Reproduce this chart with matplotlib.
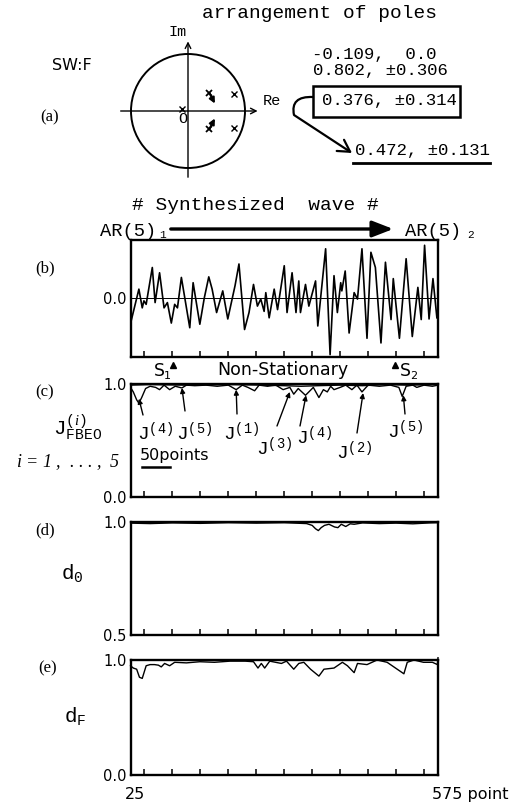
import numpy as np
import matplotlib
matplotlib.use('Agg')
import matplotlib.pyplot as plt
from matplotlib.patches import Circle, Rectangle, FancyArrowPatch
from matplotlib.path import Path

plt.rcParams['font.family'] = 'DejaVu Sans'
plt.rcParams['mathtext.fontset'] = 'custom'
plt.rcParams['mathtext.rm'] = 'Liberation Mono'
plt.rcParams['mathtext.it'] = 'Liberation Serif:italic'
plt.rcParams['mathtext.bf'] = 'Liberation Mono:bold'

# poles of the AR(5) model (real, imag)
pole_re = [-0.109, 0.802, 0.802, 0.376, 0.376]
pole_im = [0.0, 0.306, -0.306, 0.314, -0.314]
moved_re = [0.472, 0.472]
moved_im = [0.131, -0.131]

# synthesized wave
w_x = [26, 40, 46, 49, 53, 64, 69, 77, 85, 91, 98, 104, 109, 116, 131, 137, 149, 157, 165, 171,
       179, 190, 199, 212, 219, 229, 237, 245, 252, 258, 264, 267, 273, 282, 288, 300, 305, 314, 321, 326,
       329, 338, 344, 356, 360, 374, 382, 389, 395, 401, 403, 409, 416, 425, 431, 439, 448, 455, 463, 473,
       481, 491, 495, 506, 518, 529, 539, 545, 551, 559, 566, 573]
w_y = [-0.39, 0.16, -0.16, -0.04, -0.10, 0.53, -0.07, 0.44, -0.16, -0.07, -0.42, -0.10, -0.16, 0.36, -0.50, 0.27, -0.44, 0.01, 0.37, 0.16,
       -0.24, 0.13, -0.35, 0.22, 0.59, -0.53, -0.24, 0.24, -0.13, -0.01, -0.22, 0.10, -0.33, 0.16, -0.19, 0.56, -0.24, 0.44, -0.24, 0.30,
       -0.24, 0.24, -0.13, 0.30, -0.47, 0.85, -0.96, 0.39, -0.24, 0.27, 0.13, 0.47, -0.59, 0.10, -0.01, 0.85, -0.68, 0.79, 0.53, -0.76,
       0.62, -0.36, 0.34, -0.68, 0.68, -0.65, 0.19, -0.36, 0.91, -0.35, 0.34, -0.33]
s_points = [101, 498]

# J_FBEO curves
c_x = [25, 30, 36, 40, 45, 52, 60, 70, 77, 85, 95, 105, 117, 125, 140, 160, 180, 200, 214, 225,
       235, 247, 255, 270, 285, 298, 310, 317, 325, 338, 344, 352, 362, 370, 377, 383, 389, 400, 410, 421,
       430, 439, 450, 470, 490, 505, 511, 518, 530, 537, 550, 565, 575]
c_lo = [0.97, 0.93, 0.86, 0.83, 0.88, 0.96, 0.98, 0.97, 0.95, 0.99, 0.95, 0.98, 0.965, 0.99, 0.985, 0.99, 0.98, 0.99, 0.95, 0.99,
        0.97, 0.94, 0.99, 0.98, 0.99, 0.95, 0.97, 0.91, 0.96, 0.90, 0.93, 0.97, 0.88, 0.95, 0.93, 0.98, 0.95, 0.97, 0.99, 0.95,
        0.99, 0.93, 0.99, 0.98, 0.99, 0.97, 0.89, 0.98, 0.99, 0.97, 0.99, 0.98, 0.99]
c_hi_x = [25, 60, 120, 200, 260, 300, 330, 360, 400, 440, 480, 520, 575]
c_hi = [0.99, 0.995, 0.99, 0.995, 0.99, 0.985, 0.98, 0.985, 0.99, 0.985, 0.995, 0.99, 0.995]

# d0
d_x = [25, 60, 100, 150, 200, 250, 300, 340, 350, 356, 361, 366, 372, 380, 390, 396, 402, 410, 418, 425,
       440, 470, 500, 530, 560, 575]
d_y = [0.995, 0.993, 0.996, 0.994, 0.997, 0.995, 0.997, 0.993, 0.985, 0.97, 0.962, 0.975, 0.985, 0.99, 0.978, 0.975, 0.99, 0.98, 0.992, 0.99,
       0.996, 0.993, 0.995, 0.992, 0.996, 0.997]

# dF
e_x = [25, 30, 36, 41, 46, 53, 60, 68, 75, 80, 86, 95, 104, 125, 149, 175, 203, 230, 245, 253,
       259, 265, 274, 295, 304, 317, 326, 335, 347, 362, 371, 389, 404, 413, 425, 431, 448, 466, 484, 496,
       514, 520, 532, 549, 565, 574, 575]
e_y = [0.95, 0.93, 0.92, 0.85, 0.84, 0.95, 0.96, 0.96, 0.955, 0.94, 0.97, 0.95, 0.98, 0.975, 0.985, 0.98, 0.99, 0.99, 0.985, 0.93,
       0.97, 0.93, 0.99, 0.97, 0.99, 0.92, 0.97, 0.98, 0.92, 0.86, 0.92, 0.93, 0.98, 0.95, 0.89, 0.97, 0.96, 1.0, 0.98, 0.94,
       0.88, 0.98, 1.0, 0.98, 0.98, 0.96, 1.02]

# J labels: (label, dip x, dip y)
j_labels = ['4', '5', '1', '3', '4', '2', '5']
j_tip_x = [40, 117, 214, 310, 339, 441, 513]
j_tip_y = [0.87, 0.965, 0.95, 0.93, 0.90, 0.92, 0.90]

W, H = 519, 805
fig = plt.figure(figsize=(W / 100, H / 100), dpi=100)


def fp(px, py):
    return (px / W, 1 - py / H)


def ftext(px, py, s, **kw):
    kw.setdefault('ha', 'center')
    kw.setdefault('va', 'center')
    fig.text(px / W, 1 - py / H, s, **kw)


mono = 'Liberation Mono'
serif = 'Liberation Serif'

# ---------------- (a) pole plot
ax_a = fig.add_axes([0, 1 - 200 / H, 1, 200 / H])
R = 57.0
cx, cy = 188, 111
ax_a.set_xlim(-cx / R, (W - cx) / R)
ax_a.set_ylim((cy - 200) / R, cy / R)
ax_a.axis('off')
ax_a.add_patch(Circle((0, 0), 1, fill=False, lw=1.4, color='k'))
ax_a.annotate('', xy=(1.27, 0), xytext=(-1.23, 0),
              arrowprops=dict(arrowstyle='->', lw=1.0, color='k'))
ax_a.annotate('', xy=(0, 1.27), xytext=(0, -1.21),
              arrowprops=dict(arrowstyle='->', lw=1.0, color='k'))
ax_a.plot(pole_re[:3], [0.04] + pole_im[1:3], 'x', color='k', ms=4.5, mew=1.0)
ax_a.plot(pole_re[3:], pole_im[3:], 'x', color='k', ms=5, mew=1.3)
for x0, y0, x1, y1 in zip(pole_re[3:], pole_im[3:], moved_re, moved_im):
    ax_a.annotate('', xy=(x1, y1), xytext=(x0, y0),
                  arrowprops=dict(arrowstyle='-|>', lw=1.5, color='k', mutation_scale=8,
                                  shrinkA=0, shrinkB=0))

ftext(178, 32, 'Im', family=mono, fontsize=11)
ftext(272, 101, 'Re', family=mono, fontsize=11)
ftext(183, 119, 'O', family=mono, fontsize=11)
ftext(72, 65, 'SW:F', fontsize=11.5)
ftext(50, 117, '(a)', family=serif, fontsize=12)
ftext(202, 14, 'arrangement of poles', family=mono, fontsize=14, ha='left')
ftext(312, 55, '-0.109,  0.0', family=mono, fontsize=12.5, ha='left')
ftext(313, 70, '0.802, \u00b10.306', family=mono, fontsize=12.5, ha='left')
ftext(322, 101, '0.376, \u00b10.314', family=mono, fontsize=12.5, ha='left')
ftext(355, 151, '0.472, \u00b10.131', family=mono, fontsize=12.5, ha='left')

x0, y0 = fp(313, 117)
x1, y1 = fp(460, 86)
fig.add_artist(Rectangle((x0, y0), x1 - x0, y1 - y0, transform=fig.transFigure,
                         fill=False, lw=1.8, color='k'))
fig.add_artist(plt.Line2D([353 / W, 490 / W], [1 - 163 / H, 1 - 163 / H],
                          transform=fig.transFigure, lw=2.0, color='k'))
curve = Path([fp(313, 97), fp(290, 96), fp(294, 115), fp(352, 153)],
             [Path.MOVETO, Path.CURVE3, Path.CURVE3, Path.LINETO])
fig.add_artist(FancyArrowPatch(path=curve, transform=fig.transFigure,
                               arrowstyle='->,head_length=0.7,head_width=0.4',
                               mutation_scale=12, lw=1.6, color='k'))

# ---------------- shared axes helpers
left = 130.5 / W
width = 307.5 / W


def make_ax(top, bottom):
    ax = fig.add_axes([left, 1 - bottom / H, width, (bottom - top) / H])
    ax.set_xlim(25, 575)
    for sp in ax.spines.values():
        sp.set_linewidth(1.7)
    ax.set_xticks(np.arange(50, 575, 50))
    ax.tick_params(axis='x', direction='in', length=4, width=1.1, labelbottom=False)
    ax.tick_params(axis='y', length=0, pad=3, labelsize=10.5)
    return ax


# ---------------- (b) synthesized wave
ax_b = make_ax(240, 357)
ax_b.set_ylim(-1, 1)
ax_b.axhline(0, color='k', lw=0.7)
ax_b.plot(w_x, w_y, color='k', lw=1.2)
ax_b.set_yticks([0])
ax_b.set_yticklabels(['0.0'])
ax_b.plot(s_points, [-0.07, -0.07], '^', color='k', ms=5,
          transform=ax_b.get_xaxis_transform(), clip_on=False)

ftext(255, 205, '# Synthesized  wave #', family=mono, fontsize=14)
ftext(100, 231, 'AR(5)', family=mono, fontsize=13.5, ha='left')
ftext(163, 235, '1', family=mono, fontsize=8)
ftext(405, 231, 'AR(5)', family=mono, fontsize=13.5, ha='left')
ftext(471, 235, '2', family=mono, fontsize=8)
fig.add_artist(FancyArrowPatch(fp(168, 229), fp(396, 229), transform=fig.transFigure,
                               arrowstyle='-|>,head_length=0.9,head_width=0.35',
                               mutation_scale=14, lw=2.4, color='k'))
ftext(159, 371, 'S', fontsize=12.5)
ftext(167, 376, '1', fontsize=8)
ftext(283, 370, 'Non-Stationary', fontsize=12.5)
ftext(405, 371, 'S', fontsize=12.5)
ftext(414, 376, '2', fontsize=8)
ftext(45, 268, '(b)', family=serif, fontsize=12)

# ---------------- (c) J_FBEO
ax_c = make_ax(384, 497)
ax_c.set_ylim(0, 1)
ax_c.plot(c_hi_x, c_hi, color='k', lw=1.0)
ax_c.plot(c_x, c_lo, color='k', lw=1.0)
ax_c.set_yticks([0, 1])
ax_c.set_yticklabels(['0.0', '1.0'])
j_tail = [(143, 415), (185, 411), (237, 414), (277, 426), (300, 426), (357, 433), (405, 414)]
j_text = [(137, 432), (176, 432), (223, 432), (256, 447), (296, 436), (336, 451), (387, 430)]
for lab, tx, ty, tail, tp in zip(j_labels, j_tip_x, j_tip_y, j_tail, j_text):
    ax_c.annotate('', xy=(tx, ty), xycoords='data',
                  xytext=(tail[0], H - tail[1]), textcoords='figure pixels',
                  arrowprops=dict(arrowstyle='-|>', lw=1.0, color='k', mutation_scale=7,
                                  shrinkA=0, shrinkB=0))
    ftext(tp[0], tp[1], r'$\mathrm{J}^{(%s)}$' % lab, fontsize=14, ha='left')
ftext(45, 392, '(c)', family=serif, fontsize=12)
ftext(78, 428, r'$\mathrm{J}_{\mathrm{FBEO}}^{(\mathit{i})}$', fontsize=15)
ftext(68, 462, r'$\mathit{i}$ = 1 ,  . . . ,  5', family=serif, style='italic', fontsize=13)
ftext(140, 455, '50points', fontsize=11.5, ha='left')
ax_c.plot([45, 95], [0.265, 0.265], color='k', lw=1.8)

# ---------------- (d) d0
ax_d = make_ax(522, 635)
ax_d.set_ylim(0.5, 1.0)
ax_d.plot(d_x, d_y, color='k', lw=1.0)
ax_d.set_yticks([0.5, 1.0])
ax_d.set_yticklabels(['0.5', '1.0'])
ftext(45, 530, '(d)', family=serif, fontsize=12)
ftext(72, 573, r'$\mathrm{d}_{0}$', fontsize=15)

# ---------------- (e) dF
ax_e = make_ax(660, 775)
ax_e.set_ylim(0, 1.0)
ax_e.plot(e_x, e_y, color='k', lw=1.0, clip_on=False)
ax_e.set_yticks([0, 1.0])
ax_e.set_yticklabels(['0.0', '1.0'])
ftext(48, 668, '(e)', family=serif, fontsize=12)
ftext(75, 716, r'$\mathrm{d}_{\mathrm{F}}$', fontsize=15)
ftext(135, 794, '25', fontsize=11.5)
ftext(470, 794, '575 point', fontsize=11.5)

fig.savefig('out.png', dpi=100)
